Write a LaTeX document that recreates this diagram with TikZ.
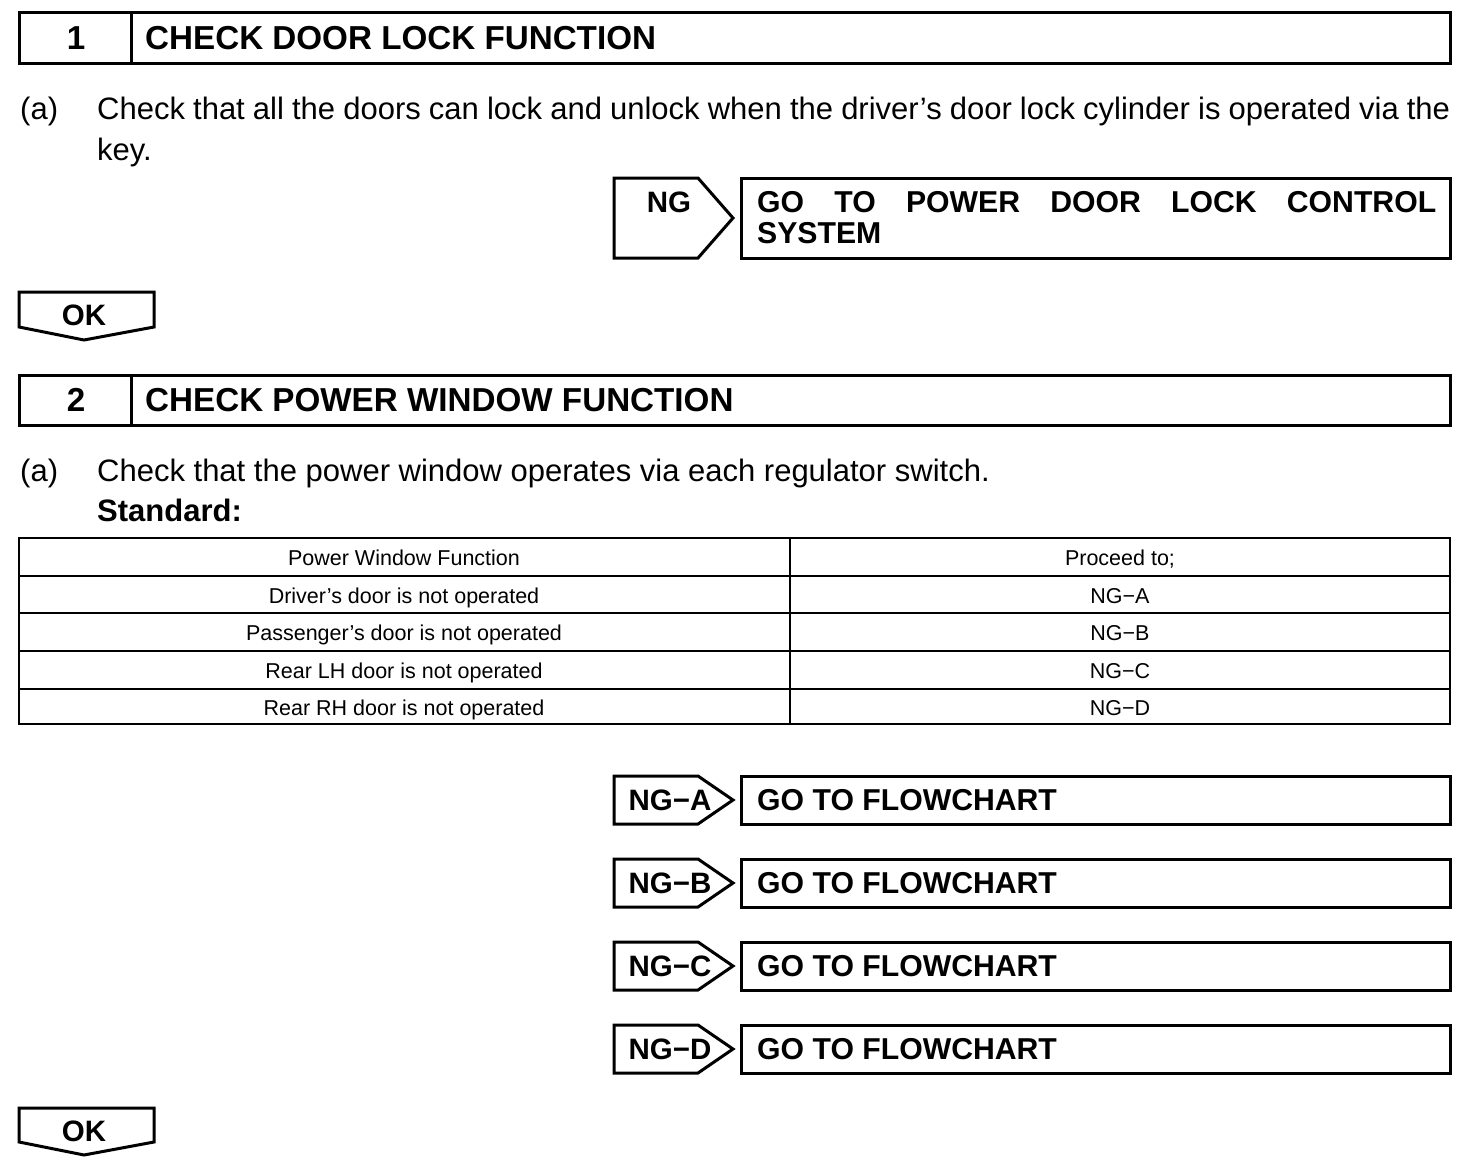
\documentclass[tikz,border=0pt]{standalone}
\usepackage{fontspec}
\setmainfont{Liberation Sans}
\begin{document}
\begin{tikzpicture}[x=1pt,y=-1pt,
  box/.style={line width=3pt, line join=miter},
  tbl/.style={line width=2.5pt},
  body/.style={inner sep=0pt, anchor=base west, font=\fontsize{31}{36}\selectfont},
  bodyb/.style={inner sep=0pt, anchor=base west, font=\fontsize{31}{36}\selectfont\bfseries},
  hdr/.style={inner sep=0pt, anchor=base west, font=\fontsize{33.2}{38}\selectfont\bfseries},
  hnum/.style={inner sep=0pt, anchor=base, font=\fontsize{33.2}{38}\selectfont\bfseries},
  tag/.style={inner sep=0pt, anchor=base, font=\fontsize{29.5}{34}\selectfont\bfseries},
  cell/.style={inner sep=0pt, anchor=base, font=\fontsize{21.5}{26}\selectfont},
  go/.style={inner sep=0pt, anchor=base west, font=\fontsize{30.2}{36}\selectfont\bfseries}]
\useasboundingbox (0,0) rectangle (1472,1170);

% ---- Step 1 header
\draw[box] (19,12) rectangle (1450,63);
\draw[box] (131,12) -- (131,63);
\node[hnum] (n1) at (76,49) {1};
\node[hdr] (h1) at (145,49) {CHECK DOOR LOCK FUNCTION};

% ---- text (a)
\node[body] (a1) at (20,119) {(a)};
\node[body] (p1) at (97,119) {\makebox[1353pt][s]{Check that all the doors can lock and unlock when the driver’s door lock cylinder is operated via the}};
\node[body] (p2) at (97,160) {key.};

% ---- NG tag and target
\draw[box] (614,178) -- (698,178) -- (733,218) -- (698,258) -- (614,258) -- cycle;
\node[tag] (ng) at (669,212) {NG};
\draw[box] (741,178) rectangle (1450,258);
\node[go] (g1) at (757,212) {\makebox[679pt][s]{GO TO POWER DOOR LOCK CONTROL}};
\node[go] (g1b) at (757,243) {SYSTEM};

% ---- OK tag
\draw[box] (19,292) -- (154,292) -- (154,327) -- (84,340) -- (19,327) -- cycle;
\node[tag] (ok1) at (84,325) {OK};

% ---- Step 2 header
\draw[box] (19,375) rectangle (1450,425);
\draw[box] (131,375) -- (131,425);
\node[hnum] (n2) at (76,411) {2};
\node[hdr] (h2) at (145,411) {CHECK POWER WINDOW FUNCTION};

\node[body] (a2) at (20,481) {(a)};
\node[body] (p3) at (97,481) {Check that the power window operates via each regulator switch.};
\node[bodyb] (std) at (97,521) {Standard:};

% ---- table
\draw[tbl] (19,538) rectangle (1450,724);
\foreach \yy in {576,613,651,689} \draw[tbl] (19,\yy) -- (1450,\yy);
\draw[tbl] (790,538) -- (790,724);
\node[cell] (c11) at (404,565) {Power Window Function};
\node[cell] (c12) at (1120,565) {Proceed to;};
\node[cell] (c21) at (404,603) {Driver’s door is not operated};
\node[cell] (c22) at (1120,603) {NG−A};
\node[cell] (c31) at (404,640) {Passenger’s door is not operated};
\node[cell] (c32) at (1120,640) {NG−B};
\node[cell] (c41) at (404,678) {Rear LH door is not operated};
\node[cell] (c42) at (1120,678) {NG−C};
\node[cell] (c51) at (404,715) {Rear RH door is not operated};
\node[cell] (c52) at (1120,715) {NG−D};

% ---- NG-A..D tags
\foreach \lab/\top in {A/776, B/859, C/942, D/1025} {
  \pgfmathsetmacro{\bot}{\top+48}
  \pgfmathsetmacro{\mid}{\top+24}
  \pgfmathsetmacro{\base}{\top+34}
  \draw[box] (614,\top) -- (698,\top) -- (733,\mid) -- (698,\bot) -- (614,\bot) -- cycle;
  \node[tag] (ng\lab) at (670,\base) {NG−\lab};
  \draw[box] (741,\top) rectangle (1450,\bot);
  \node[go] (go\lab) at (757,\base) {GO TO FLOWCHART};
}

% ---- OK tag 2
\draw[box] (19,1108) -- (154,1108) -- (154,1142) -- (84,1155) -- (19,1142) -- cycle;
\node[tag] (ok2) at (84,1141) {OK};
\end{tikzpicture}
\end{document}
